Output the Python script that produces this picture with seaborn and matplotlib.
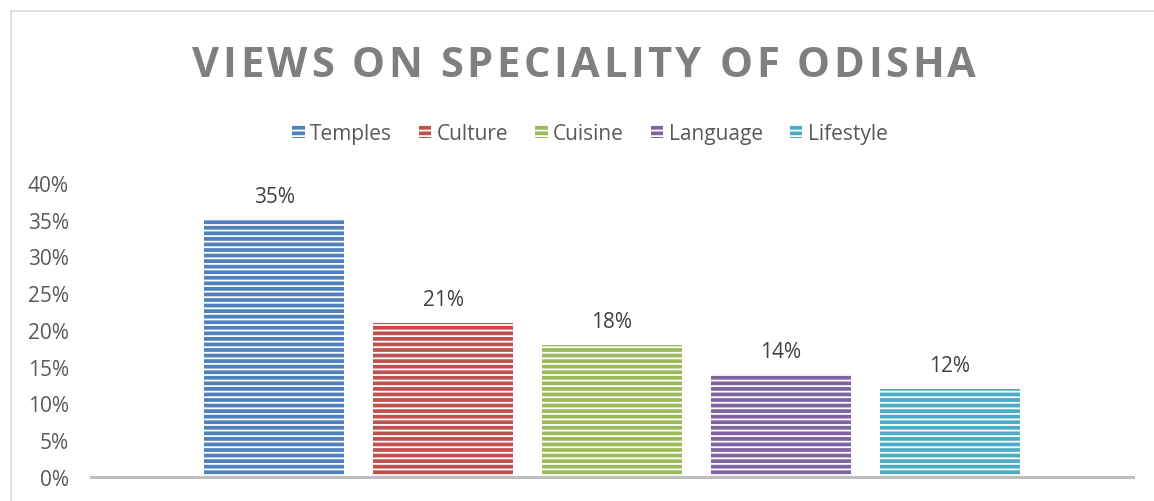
import matplotlib
matplotlib.use("Agg")
import matplotlib.pyplot as plt
from matplotlib.patches import Patch
from matplotlib.lines import Line2D
import seaborn as sns
import pandas as pd

# Survey answers: share of respondents naming each speciality
categories = ["Temples", "Culture", "Cuisine", "Language", "Lifestyle"]
shares = [0.35, 0.21, 0.18, 0.14, 0.12]
colors = ["#4F81BD", "#C0504D", "#9BBB59", "#8064A2", "#4BACC6"]
y_ticks = [0.0, 0.05, 0.10, 0.15, 0.20, 0.25, 0.30, 0.35, 0.40]
title = "VIEWS ON SPECIALITY OF ODISHA"

df = pd.DataFrame({"group": [""] * len(categories), "series": categories, "share": shares})

sns.set_theme(style="white")
plt.rcParams["font.family"] = ["Open Sans", "DejaVu Sans"]
plt.rcParams["hatch.linewidth"] = 1.3

fig = plt.figure(figsize=(11.54, 5.02), dpi=100)
ax = fig.add_axes([0.0789, 0.0478, 0.9029, 0.5857])

sns.barplot(data=df, x="group", y="share", hue="series", hue_order=categories,
            palette=colors, width=0.81, gap=0.17, legend=False, ax=ax,
            edgecolor="white", linewidth=0, saturation=1)

for bar in ax.patches:
    bar.set_hatch("---")
    bar.set_edgecolor("white")
    bar.set_linewidth(0)

# value labels above each bar
for bar, val in zip(ax.patches, shares):
    ax.annotate(f"{val:.0%}", (bar.get_x() + bar.get_width() / 2, val),
                xytext=(0, 23), textcoords="offset pixels",
                ha="center", va="center", fontsize=15, color="#404040")

ax.set_xlim(-0.5, 0.5)
ax.set_ylim(0, 0.40)
ax.set_yticks(y_ticks)
ax.set_yticklabels([f"{t:.0%}" for t in y_ticks], fontsize=15, color="#595959")
ax.set_xticks([])
ax.set_xlabel("")
ax.set_ylabel("")
ax.tick_params(axis="y", length=0, pad=16)
for side in ["top", "right", "left"]:
    ax.spines[side].set_visible(False)
ax.spines["bottom"].set_color("#BFBFBF")
ax.spines["bottom"].set_linewidth(2.2)

handles = [Patch(facecolor=c, edgecolor="white", hatch="---", linewidth=0) for c in colors]
fig.legend(handles, categories, loc="center", bbox_to_anchor=(0.511, 0.733), ncol=5,
           frameon=False, fontsize=15, labelcolor="#595959", handlelength=0.6,
           handleheight=0.6, handletextpad=0.25, columnspacing=1.3)

# letter-spaced title, laid out one character at a time
renderer = fig.canvas.get_renderer()
title_kw = dict(fontsize=30, fontweight="bold", color="#7F7F7F", va="center")
spacing_px = 3.6


def text_width(s):
    t = fig.text(0, 0, s + "|", **title_kw)
    w = t.get_window_extent(renderer).width
    t.remove()
    t = fig.text(0, 0, "|", **title_kw)
    w -= t.get_window_extent(renderer).width
    t.remove()
    return w


total = text_width(title) + spacing_px * (len(title) - 1)
fig_w = fig.bbox.width
x_start = 584 - total / 2
for i, ch in enumerate(title):
    x = x_start + text_width(title[:i]) + spacing_px * i
    fig.text(x / fig_w, 0.868, ch, ha="left", **title_kw)

# chart frame lines along the left and top edges
fig.add_artist(Line2D([0.0095, 0.0095], [0.0, 0.976], transform=fig.transFigure,
                      color="#D9D9D9", linewidth=1.2))
fig.add_artist(Line2D([0.0095, 1.0], [0.976, 0.976], transform=fig.transFigure,
                      color="#D9D9D9", linewidth=1.2))

fig.savefig("out.png", dpi=100, facecolor="white")
